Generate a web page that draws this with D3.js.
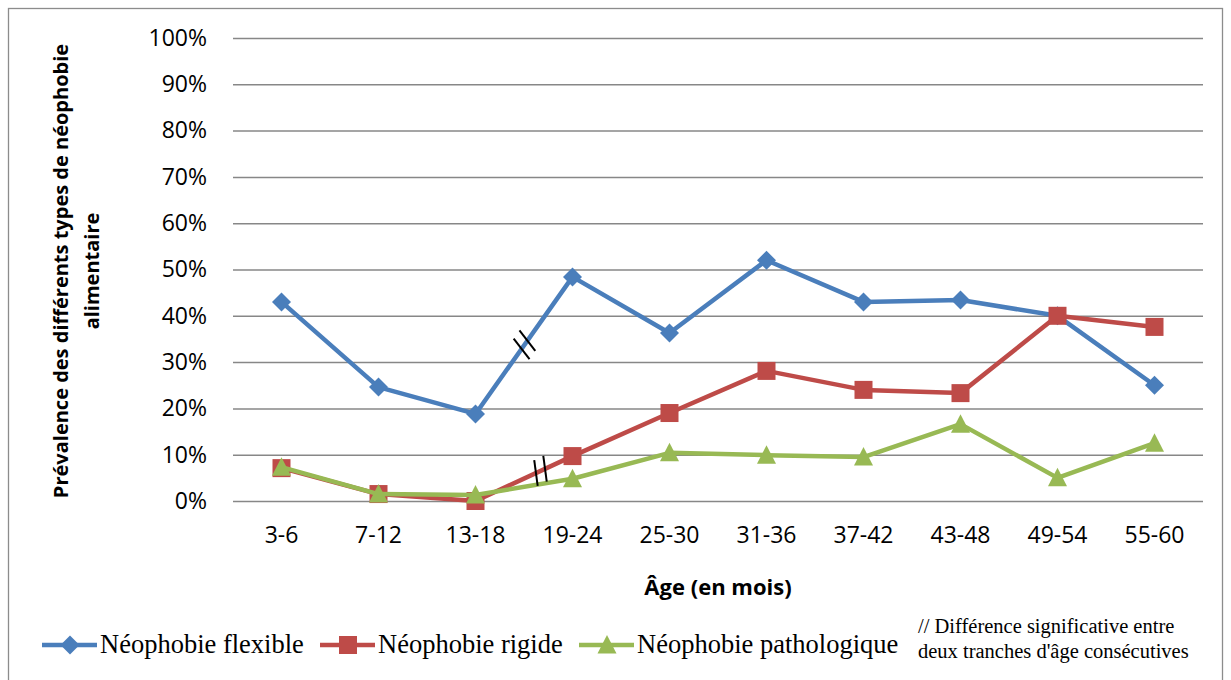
<!DOCTYPE html>
<html>
<head>
<meta charset="utf-8">
<script src="https://cdn.jsdelivr.net/npm/d3@7"></script>
<style>
  body { margin: 0; background: #fff; }
  svg { display: block; }
</style>
</head>
<body>
<script>
// age groups (months)
let categories = ["3-6", "7-12", "13-18", "19-24", "25-30", "31-36", "37-42", "43-48", "49-54", "55-60"];

// prevalence in %
let flexible = [43.0, 24.6, 18.8, 48.4, 36.3, 52.0, 43.0, 43.4, 40.0, 25.0];
let rigide = [7.1, 1.5, 0.0, 9.7, 19.0, 28.1, 24.0, 23.3, 40.0, 37.6];
let pathologique = [7.3, 1.5, 1.3, 4.8, 10.4, 9.9, 9.5, 16.6, 5.0, 12.5];

let seriesNames = ["Néophobie flexible", "Néophobie rigide", "Néophobie pathologique"];
let yTicks = [0, 10, 20, 30, 40, 50, 60, 70, 80, 90, 100];

// "//" marks: series index, segment start index, position along segment
let sigSeries = [0, 1];
let sigStart = [2, 2];
let sigPos = [0.505, 0.67];

let width = 1231;
let height = 680;
let plotLeft = 233, plotRight = 1203, plotTop = 38, plotBottom = 501;

let colors = ["#4a7ebb", "#be4b48", "#98b954"];
let allSeries = [flexible, rigide, pathologique];

let svg = d3.select("body").append("svg")
    .attr("width", width)
    .attr("height", height);

// outer frame
svg.append("rect")
    .attr("x", 8.5).attr("y", 8.5)
    .attr("width", 1214).attr("height", 700)
    .attr("fill", "none")
    .attr("stroke", "#8c8c8c")
    .attr("stroke-width", 1.3);

let xScale = d3.scaleBand()
    .domain(categories)
    .range([plotLeft, plotRight]);

let yScale = d3.scaleLinear()
    .domain([0, 100])
    .range([plotBottom, plotTop]);

let xPos = (i) => xScale(categories[i]) + xScale.bandwidth() / 2;

// gridlines + y labels
let yAxis = d3.axisLeft(yScale)
    .tickValues(yTicks)
    .tickSize(-(plotRight - plotLeft))
    .tickPadding(26)
    .tickFormat((d) => d + "%");

let gy = svg.append("g")
    .attr("transform", "translate(" + plotLeft + ",0)")
    .call(yAxis);
gy.select(".domain").remove();
gy.selectAll(".tick line").attr("stroke", "#878787").attr("stroke-width", 1.5);
gy.selectAll(".tick text")
    .attr("font-family", "Open Sans, sans-serif")
    .attr("font-size", 23)
    .attr("fill", "#000");

// x labels
let xAxis = d3.axisBottom(xScale).tickSize(0).tickPadding(26);
let gx = svg.append("g")
    .attr("transform", "translate(0," + plotBottom + ")")
    .call(xAxis);
gx.select(".domain").remove();
gx.selectAll(".tick text")
    .attr("font-family", "Open Sans, sans-serif")
    .attr("font-size", 23)
    .attr("fill", "#000");

// axis titles
svg.append("text")
    .attr("x", 718)
    .attr("y", 595)
    .attr("text-anchor", "middle")
    .attr("font-family", "Open Sans, sans-serif")
    .attr("font-weight", "bold")
    .attr("font-size", 22)
    .text("Âge (en mois)");

let ytitle = svg.append("text")
    .attr("transform", "translate(68," + 271 + ") rotate(-90)")
    .attr("text-anchor", "middle")
    .attr("font-family", "Open Sans, sans-serif")
    .attr("font-weight", "bold")
    .attr("font-size", 20);
ytitle.append("tspan").attr("x", 0).attr("dy", 0).text("Prévalence des différents types de néophobie");
ytitle.append("tspan").attr("x", 0).attr("dy", 31).text("alimentaire");

// markers
function drawMarker(g, k, x, y) {
    if (k === 0) {
        g.append("path")
            .attr("d", "M" + x + "," + (y - 9.5) + "L" + (x + 9.5) + "," + y + "L" + x + "," + (y + 9.5) + "L" + (x - 9.5) + "," + y + "Z")
            .attr("fill", colors[k]);
    } else if (k === 1) {
        g.append("rect")
            .attr("x", x - 9).attr("y", y - 9)
            .attr("width", 18).attr("height", 18)
            .attr("fill", colors[k]);
    } else {
        g.append("path")
            .attr("d", "M" + x + "," + (y - 10) + "L" + (x + 9.5) + "," + (y + 8.5) + "L" + (x - 9.5) + "," + (y + 8.5) + "Z")
            .attr("fill", colors[k]);
    }
}

let line = d3.line()
    .x((d, i) => xPos(i))
    .y((d) => yScale(d));

allSeries.forEach((data, k) => {
    let g = svg.append("g");
    g.append("path")
        .datum(data)
        .attr("d", line)
        .attr("fill", "none")
        .attr("stroke", colors[k])
        .attr("stroke-width", 4.5)
        .attr("stroke-linejoin", "round");
    data.forEach((d, i) => drawMarker(g, k, xPos(i), yScale(d)));
});

// significance marks
sigSeries.forEach((s, j) => {
    let i = sigStart[j];
    let data = allSeries[s];
    let x1 = xPos(i), y1 = yScale(data[i]);
    let x2 = xPos(i + 1), y2 = yScale(data[i + 1]);
    let cx = x1 + (x2 - x1) * sigPos[j];
    let cy = y1 + (y2 - y1) * sigPos[j];
    let ang = Math.atan2(y2 - y1, x2 - x1);
    let ux = Math.cos(ang), uy = Math.sin(ang);
    // strokes a bit steeper than perpendicular
    let ca = ang + Math.PI / 2 + 0.3;
    let vx = Math.cos(ca), vy = Math.sin(ca);
    [-5, 5].forEach((off) => {
        let mx = cx + ux * off, my = cy + uy * off;
        svg.append("line")
            .attr("x1", mx - vx * 13).attr("y1", my - vy * 13)
            .attr("x2", mx + vx * 13).attr("y2", my + vy * 13)
            .attr("stroke", "#000")
            .attr("stroke-width", 2);
    });
});

// legend
let legendX = [42, 320, 579];
seriesNames.forEach((name, k) => {
    let g = svg.append("g");
    let x0 = legendX[k], y0 = 645;
    g.append("line")
        .attr("x1", x0).attr("x2", x0 + 55)
        .attr("y1", y0).attr("y2", y0)
        .attr("stroke", colors[k])
        .attr("stroke-width", 4.5);
    drawMarker(g, k, x0 + 28, y0);
    g.append("text")
        .attr("x", x0 + 58)
        .attr("y", 653)
        .attr("font-family", "Liberation Serif, serif")
        .attr("font-size", 26.5)
        .text(name);
});

let note = svg.append("text")
    .attr("font-family", "Liberation Serif, serif")
    .attr("font-size", 20.5);
note.append("tspan").attr("x", 918).attr("y", 633).text("// Différence significative entre");
note.append("tspan").attr("x", 918).attr("y", 658).text("deux tranches d'âge consécutives");
</script>
</body>
</html>
